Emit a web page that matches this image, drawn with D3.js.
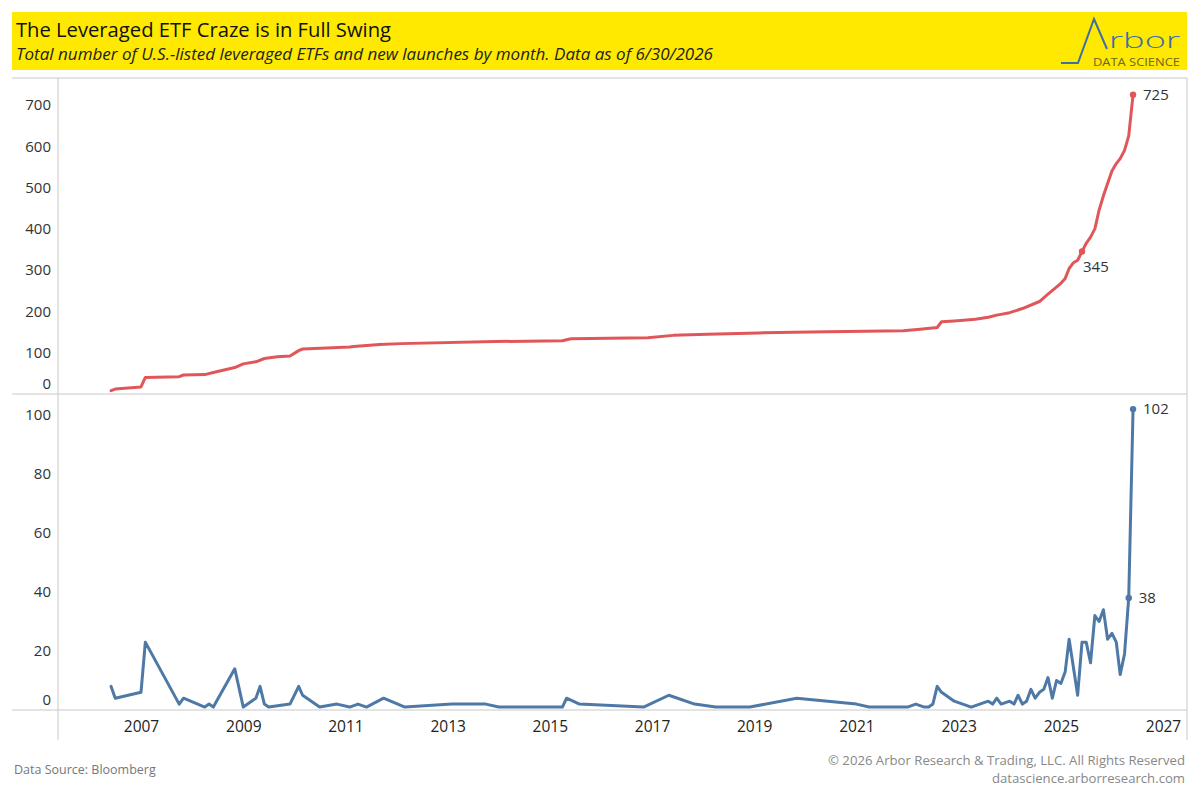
<!DOCTYPE html>
<html>
<head>
<meta charset="utf-8">
<script src="https://cdn.jsdelivr.net/npm/d3@7"></script>
<style>
  body { margin: 0; background: #fff; }
  svg { display: block; font-family: "Open Sans", "Noto Sans", sans-serif; }
</style>
</head>
<body>
<svg id="chart" width="1200" height="800"></svg>
<script>
// total number of listed leveraged ETFs (top panel)
const totalMonths = ["2006-06","2006-07","2007-01","2007-02","2007-10","2007-11","2008-04","2008-06","2008-11","2009-01",
  "2009-04","2009-06","2009-09","2009-12","2010-02","2010-03","2011-02","2011-03","2011-09","2012-02",
  "2013-12","2015-04","2015-06","2016-12","2017-06","2018-02","2019-02","2020-06","2021-12","2022-04",
  "2022-08","2022-09","2022-12","2023-05","2023-08","2023-10","2024-01","2024-04","2024-08","2024-10",
  "2025-01","2025-02","2025-03","2025-04","2025-05","2025-06","2025-07","2025-08","2025-09","2025-10",
  "2025-11","2025-12","2026-01","2026-02","2026-03","2026-04","2026-05","2026-06"];
const totalCounts = [8,12,17,40,42,46,47,52,64,73,
  78,86,90,92,105,109,114,115,120,122,
  127,129,134,136,142,145,148,151,153,157,
  161,175,177,181,186,191,197,207,224,242,
  268,280,304,318,324,345,365,380,400,445,
  480,510,540,558,570,590,625,725];

// new launches by month (bottom panel)
const launchMonths = ["2006-06","2006-07","2007-01","2007-02","2007-10","2007-11","2008-04","2008-05","2008-06","2008-11",
  "2009-01","2009-04","2009-05","2009-06","2009-07","2009-12","2010-02","2010-03","2010-07","2010-11",
  "2011-02","2011-04","2011-06","2011-10","2012-03","2013-02","2013-10","2014-01","2015-04","2015-05",
  "2015-08","2016-11","2017-05","2017-11","2018-04","2018-12","2019-11","2021-01","2021-04","2022-01",
  "2022-03","2022-05","2022-06","2022-07","2022-08","2022-09","2022-12","2023-04","2023-08","2023-09",
  "2023-10","2023-11","2024-01","2024-02","2024-03","2024-04","2024-05","2024-06","2024-07","2024-08",
  "2024-09","2024-10","2024-11","2024-12","2025-01","2025-02","2025-03","2025-05","2025-06","2025-07",
  "2025-08","2025-09","2025-10","2025-11","2025-12","2026-01","2026-02","2026-03","2026-04","2026-05","2026-06"];
const launchCounts = [8,4,6,23,2,4,1,2,1,14,
  1,4,8,2,1,2,8,5,1,2,
  1,2,1,4,1,2,2,1,1,4,
  2,1,5,2,1,1,4,2,1,1,
  2,1,1,2,8,6,3,1,3,2,
  4,2,3,2,5,2,3,7,4,6,
  7,11,4,10,9,13,24,5,23,23,
  16,32,30,34,24,26,23,12,19,38,102];

const labeledTotalMonths = ["2025-06", "2026-06"];
const labeledLaunchMonths = ["2026-05", "2026-06"];

const yearTicks = [2007, 2009, 2011, 2013, 2015, 2017, 2019, 2021, 2023, 2025, 2027];
const totalTicks = [0, 100, 200, 300, 400, 500, 600, 700];
const launchTicks = [0, 20, 40, 60, 80, 100];

const titleText = "The Leveraged ETF Craze is in Full Swing";
const subtitleText = "Total number of U.S.-listed leveraged ETFs and new launches by month. Data as of 6/30/2026";

const parseMonth = d3.timeParse("%Y-%m");
const totals = totalMonths.map((m, i) => ({ date: parseMonth(m), month: m, value: totalCounts[i] }));
const launches = launchMonths.map((m, i) => ({ date: parseMonth(m), month: m, value: launchCounts[i] }));

const svg = d3.select("#chart");
const left = 58, right = 1187, top1 = 78, base1 = 394, base2 = 710, axisBottom = 740;
const gridColor = "#c8c8c8", textColor = "#333";
const red = "#e15759", blue = "#4e79a7";

// header
svg.append("rect").attr("x", 12).attr("y", 12).attr("width", 1175).attr("height", 58).attr("fill", "#ffe900");
svg.append("text").attr("x", 16).attr("y", 37).attr("font-size", 20).attr("fill", "#111")
  .attr("textLength", 375).attr("lengthAdjust", "spacingAndGlyphs").text(titleText);
svg.append("text").attr("x", 16).attr("y", 60).attr("font-size", 16.5).attr("font-style", "italic")
  .attr("fill", "#222").attr("textLength", 697).attr("lengthAdjust", "spacingAndGlyphs").text(subtitleText);

// logo
svg.append("path")
  .attr("d", d3.line()([[1061, 63], [1078, 63], [1094, 19], [1107, 49]]))
  .attr("fill", "none").attr("stroke", "#3d6ea5").attr("stroke-width", 2);
svg.append("text").attr("x", 1109).attr("y", 48).attr("font-size", 22).attr("font-weight", 300)
  .attr("fill", "#3d6ea5").attr("textLength", 71).attr("lengthAdjust", "spacingAndGlyphs").text("rbor");
svg.append("text").attr("x", 1093).attr("y", 66).attr("font-size", 10)
  .attr("fill", "#6b6425").attr("textLength", 87).attr("lengthAdjust", "spacingAndGlyphs").text("DATA SCIENCE");

// scales
const x = d3.scaleTime()
  .domain([new Date(2007, 0, 1), new Date(2027, 0, 1)])
  .range([141, 1163]);
const yTop = d3.scaleLinear().domain([0, 700]).range([base1, base1 - 700 * 0.4129]);
const yBot = d3.scaleLinear().domain([0, 100]).range([base2, base2 - 100 * 2.95]);

// frame
svg.append("line").attr("x1", 12).attr("x2", right).attr("y1", top1).attr("y2", top1).attr("stroke", gridColor);
svg.append("line").attr("x1", 12).attr("x2", right).attr("y1", base1).attr("y2", base1).attr("stroke", gridColor);
svg.append("line").attr("x1", 12).attr("x2", right).attr("y1", base2).attr("y2", base2).attr("stroke", gridColor);
svg.append("line").attr("x1", left).attr("x2", left).attr("y1", top1).attr("y2", axisBottom).attr("stroke", gridColor);
svg.append("line").attr("x1", right).attr("x2", right).attr("y1", top1).attr("y2", axisBottom).attr("stroke", gridColor);

// y axes
function yAxis(scale, ticks) {
  const g = svg.append("g")
    .attr("transform", `translate(${left},0)`)
    .call(d3.axisLeft(scale).tickValues(ticks).tickSize(0).tickPadding(7));
  g.select(".domain").remove();
  g.selectAll("text").attr("font-size", 15).attr("fill", textColor)
    .attr("font-family", "Open Sans, sans-serif")
    .attr("dy", d => d === 0 ? "-0.4em" : "0.32em");
}
yAxis(yTop, totalTicks);
yAxis(yBot, launchTicks);

// x axis
const gx = svg.append("g")
  .attr("transform", `translate(0,${base2})`)
  .call(d3.axisBottom(x).tickValues(yearTicks.map(yr => new Date(yr, 0, 1)))
    .tickFormat(d3.timeFormat("%Y")).tickSize(0).tickPadding(11));
gx.select(".domain").remove();
gx.selectAll("text").attr("font-size", 15.5).attr("fill", "#222").attr("font-family", "Open Sans, sans-serif");

// lines
svg.append("path")
  .datum(totals)
  .attr("fill", "none").attr("stroke", red).attr("stroke-width", 3)
  .attr("stroke-linejoin", "round").attr("stroke-linecap", "round")
  .attr("d", d3.line().x(d => x(d.date)).y(d => yTop(d.value)));

svg.append("path")
  .datum(launches)
  .attr("fill", "none").attr("stroke", blue).attr("stroke-width", 3)
  .attr("stroke-linejoin", "round").attr("stroke-linecap", "round")
  .attr("d", d3.line().x(d => x(d.date)).y(d => yBot(d.value)));

// marks + labels
const topMarks = totals.filter(d => labeledTotalMonths.includes(d.month));
svg.selectAll(".topDot").data(topMarks).enter().append("circle")
  .attr("cx", d => x(d.date)).attr("cy", d => yTop(d.value)).attr("r", 3.2).attr("fill", red);
svg.selectAll(".topLbl").data(topMarks).enter().append("text")
  .attr("x", (d, i) => x(d.date) + (i === 0 ? 1 : 10))
  .attr("y", (d, i) => yTop(d.value) + (i === 0 ? 20 : 5))
  .attr("font-size", 15).attr("fill", textColor).text(d => d.value);

const botMarks = launches.filter(d => labeledLaunchMonths.includes(d.month));
svg.selectAll(".botDot").data(botMarks).enter().append("circle")
  .attr("cx", d => x(d.date)).attr("cy", d => yBot(d.value)).attr("r", 3.2).attr("fill", blue);
svg.selectAll(".botLbl").data(botMarks).enter().append("text")
  .attr("x", d => x(d.date) + 10)
  .attr("y", d => yBot(d.value) + 5)
  .attr("font-size", 15).attr("fill", textColor).text(d => d.value);

// footer
svg.append("text").attr("x", 14).attr("y", 774).attr("font-size", 12.5).attr("fill", "#777").text("Data Source: Bloomberg");
svg.append("text").attr("x", 1185).attr("y", 765).attr("text-anchor", "end").attr("font-size", 13)
  .attr("fill", "#888").attr("textLength", 357).attr("lengthAdjust", "spacingAndGlyphs")
  .text("© 2026 Arbor Research & Trading, LLC. All Rights Reserved");
svg.append("text").attr("x", 1185).attr("y", 783).attr("text-anchor", "end").attr("font-size", 13)
  .attr("fill", "#888").attr("textLength", 193).attr("lengthAdjust", "spacingAndGlyphs")
  .text("datascience.arborresearch.com");
</script>
</body>
</html>
